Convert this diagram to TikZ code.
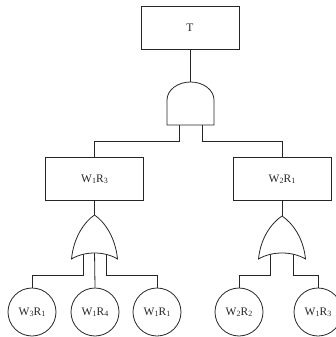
\documentclass[tikz,border=0pt]{standalone}
\usepackage{fontspec}
\setmainfont{Liberation Serif}
\newcommand{\sub}[1]{{\fontsize{8}{8}\selectfont\raisebox{-0.6pt}{#1}}}
\begin{document}
\begin{tikzpicture}[x=1pt,y=-1pt,line width=0.8pt,color=black!85,
  lbl/.style={font=\fontsize{11.5}{13}\selectfont},
  box/.style={lbl, draw, rectangle, minimum width=98pt, minimum height=43pt, inner sep=0pt},
  event/.style={lbl, draw, circle, minimum size=48pt, inner sep=0pt},
  gate/.style={draw, fill=white},
  wire/.style={draw}]
\useasboundingbox (0,0) rectangle (336,337);

% boxes
\node[box] (T) at (190,27.5) {T};
\node[box] (A) at (94.5,179) {W\sub{1}R\sub{3}};
\node[box] (B) at (282,179) {W\sub{2}R\sub{1}};

% basic events
\node[event] (e1) at (32,312) {W\sub{3}R\sub{1}};
\node[event] (e2) at (95,312) {W\sub{1}R\sub{4}};
\node[event] (e3) at (157,312) {W\sub{1}R\sub{1}};
\node[event] (e4) at (239,312) {W\sub{2}R\sub{2}};
\node[event] (e5) at (318,312) {W\sub{1}R\sub{3}};

% gate coordinates
\coordinate (andtop) at (190,82);
\coordinate (andL) at (179,120);
\coordinate (andR) at (202,120);
\coordinate (orAtop) at (94.5,215);
\coordinate (orAL) at (83,250);
\coordinate (orAM) at (94.5,250);
\coordinate (orAR) at (106,250);
\coordinate (orBtop) at (282,216);
\coordinate (orBL) at (270.5,250);
\coordinate (orBR) at (293.5,250);

% connectors
\draw[wire] (T.south) -- (andtop);
\draw[wire] (andL) -- (179,141) -| (A.north);
\draw[wire] (andR) -- (202,141) -| (B.north);
\draw[wire] (A.south) -- (orAtop);
\draw[wire] (B.south) -- (orBtop);
\draw[wire] (orAL) -- (83,275) -| (e1.north);
\draw[wire] (orAM) -- (e2.north);
\draw[wire] (orAR) -- (106,275) -| (e3.north);
\draw[wire] (orBL) -- (270.5,275) -| (e4.north);
\draw[wire] (orBR) -- (293.5,275) -| (e5.north);

% AND gate
\draw[gate] (167,125) -- (167,100)
  .. controls (167,90.1) and (177.5,82) .. (190.5,82)
  .. controls (203.5,82) and (214,90.1) .. (214,100)
  -- (214,125) -- cycle;

% OR gates
\draw[gate] (71.5,259) .. controls (73.5,238) and (84,222) .. (94.5,215)
  .. controls (105,222) and (115.5,238) .. (117.5,259)
  .. controls (104.5,251) and (84.5,251) .. cycle;
\draw[gate] (258.5,259) .. controls (260.5,238) and (271.5,223) .. (282,216)
  .. controls (292.5,223) and (303.5,238) .. (305.5,259)
  .. controls (292,251) and (272,251) .. cycle;
\end{tikzpicture}
\end{document}
